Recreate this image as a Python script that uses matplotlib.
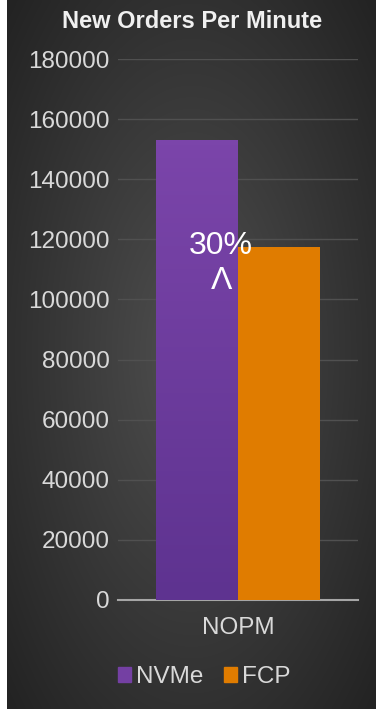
import numpy as np
import matplotlib
matplotlib.use("Agg")
import matplotlib.pyplot as plt
from matplotlib.patches import Patch

categories = ["NOPM"]
series = ["NVMe", "FCP"]
values = [153000, 117500]
colors = ["#7440a3", "#e07c00"]
yticks = [0, 20000, 40000, 60000, 80000, 100000, 120000, 140000, 160000, 180000]
title = "New Orders Per Minute"
note = "30%\nΛ"

plt.rcParams['font.family'] = ['Liberation Sans', 'DejaVu Sans']

W, H = 376, 709
fig = plt.figure(figsize=(W / 100, H / 100), dpi=100)

# radial gray background (white strip on the left edge)
bg = fig.add_axes([7 / W, 0, 1 - 7 / W, 1])
yy, xx = np.mgrid[0:1:300j, 0:1:200j]
r = np.sqrt(((xx - 0.5) / 0.75) ** 2 + ((yy - 0.5) / 0.8) ** 2)
shade = np.clip(0.31 - 0.19 * r, 0.14, 0.31)
bg.imshow(np.dstack([shade] * 3), aspect='auto', extent=[0, 1, 0, 1],
          interpolation='bicubic')
bg.axis('off')

ax = fig.add_axes([118 / W, (H - 600) / H, (358 - 118) / W, (600 - 59) / H])
ax.patch.set_alpha(0)

x = np.arange(len(categories))
width = 0.34
bars = []
for i, (s, v, c) in enumerate(zip(series, values, colors)):
    b = ax.bar(x + (i - 0.5) * width, [v], width, color=c, label=s, zorder=3)
    bars.append(b[0])

# purple bar gets a soft vertical gradient
nv = bars[0]
grad = np.linspace(0, 1, 100).reshape(-1, 1)
cmap = matplotlib.colors.LinearSegmentedColormap.from_list(
    "p", ["#5e3390", "#7b45aa"])
im = ax.imshow(grad, cmap=cmap, aspect='auto', origin='lower', zorder=3,
               extent=[nv.get_x(), nv.get_x() + nv.get_width(), 0, nv.get_height()])
im.set_clip_path(nv)

ax.set_xlim(-0.5, 0.5)
ax.set_ylim(0, 180000)
ax.set_yticks(yticks)
ax.set_yticklabels([str(t) for t in yticks])
ax.set_xticks(x)
ax.set_xticklabels(categories)
ax.tick_params(axis='both', colors='#d9d9d9', labelsize=17.5, length=0)
ax.tick_params(axis='y', pad=6)
ax.tick_params(axis='x', pad=12)
ax.grid(axis='y', color='#505050', linewidth=1, zorder=0)
for s in ['top', 'right', 'left']:
    ax.spines[s].set_visible(False)
ax.spines['bottom'].set_color('#a6a6a6')
ax.spines['bottom'].set_linewidth(1.5)

ax.text(-0.07, 112000, note, ha='center', va='center', color='white',
        fontsize=23, linespacing=1.2, zorder=5)

fig.text(192 / W, 1 - 22 / H, title, ha='center', va='center',
         color='#f0f0f0', fontsize=17, fontweight='bold')

handles = [Patch(color=c, label=s) for s, c in zip(series, colors)]
fig.legend(handles=handles, loc='center', bbox_to_anchor=(204 / W, 1 - 677 / H),
           ncol=2, frameon=False, fontsize=17.5, labelcolor='#d9d9d9',
           handlelength=0.55, handleheight=0.55, handletextpad=0.2,
           columnspacing=0.85)

fig.savefig("out.png", dpi=100)
